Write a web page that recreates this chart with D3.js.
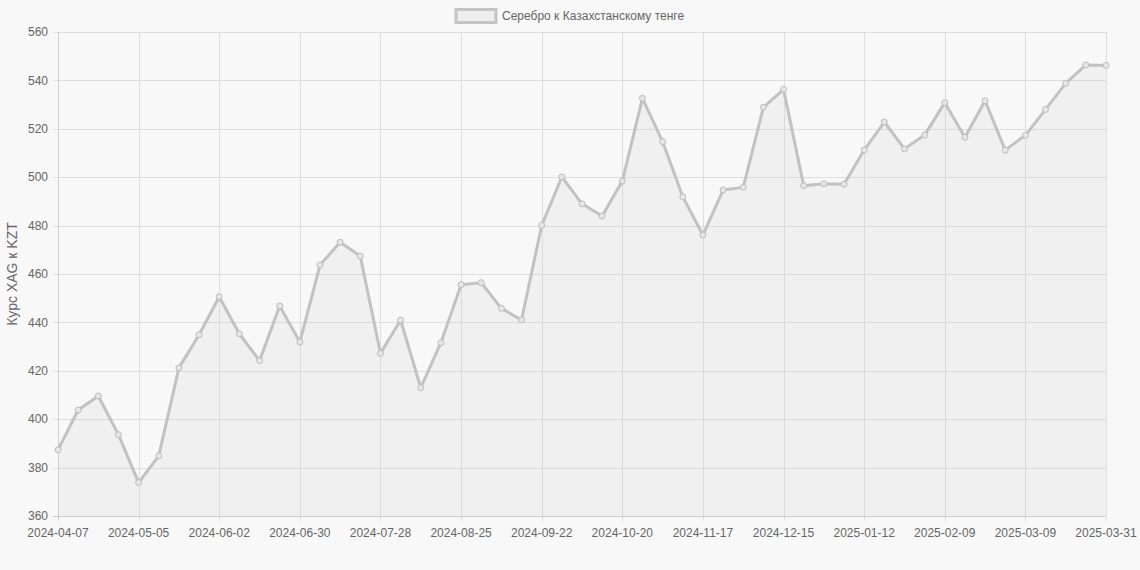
<!DOCTYPE html>
<html>
<head>
<meta charset="utf-8">
<script src="https://cdn.jsdelivr.net/npm/d3@7"></script>
<style>
  html, body { margin: 0; padding: 0; background: #f8f8f8; }
  svg { display: block; font-family: "Liberation Sans", Arial, Helvetica, sans-serif; }
</style>
</head>
<body>
<svg id="chart" width="1140" height="570"></svg>
<script>
const dates = [
  "2024-04-07","2024-04-14","2024-04-21","2024-04-28","2024-05-05","2024-05-12","2024-05-19","2024-05-26",
  "2024-06-02","2024-06-09","2024-06-16","2024-06-23","2024-06-30","2024-07-07","2024-07-14","2024-07-21",
  "2024-07-28","2024-08-04","2024-08-11","2024-08-18","2024-08-25","2024-09-01","2024-09-08","2024-09-15",
  "2024-09-22","2024-09-29","2024-10-06","2024-10-13","2024-10-20","2024-10-27","2024-11-03","2024-11-10",
  "2024-11-17","2024-11-24","2024-12-01","2024-12-08","2024-12-15","2024-12-22","2024-12-29","2025-01-05",
  "2025-01-12","2025-01-19","2025-01-26","2025-02-02","2025-02-09","2025-02-16","2025-02-23","2025-03-02",
  "2025-03-09","2025-03-16","2025-03-23","2025-03-30","2025-03-31"
];
const values = [
  387.3, 403.8, 409.6, 393.6, 373.8, 384.9, 421.2, 434.9,
  450.6, 435.3, 424.2, 446.8, 431.9, 463.7, 473.1, 467.4,
  427.2, 441.0, 413.0, 431.6, 455.6, 456.4, 445.8, 441.0,
  480.1, 500.1, 489.0, 484.0, 498.4, 532.6, 514.7, 491.9,
  476.1, 494.7, 495.8, 528.9, 536.3, 496.5, 497.3, 497.1,
  511.2, 522.8, 511.7, 517.4, 530.8, 516.5, 531.6, 511.2,
  517.3, 528.0, 538.8, 546.4, 546.2
];
const yTicks = [360, 380, 400, 420, 440, 460, 480, 500, 520, 540, 560];
const xTickLabels = ["2024-04-07","2024-05-05","2024-06-02","2024-06-30","2024-07-28","2024-08-25",
  "2024-09-22","2024-10-20","2024-11-17","2024-12-15","2025-01-12","2025-02-09","2025-03-09","2025-03-31"];
const seriesName = "Серебро к Казахстанскому тенге";
const yTitle = "Курс XAG к KZT";

(function () {
const svg = d3.select("#chart");
const pLeft = 58, pRight = 1106, pTop = 32, pBottom = 516;

const x = d3.scalePoint().domain(dates).range([pLeft, pRight]);
const y = d3.scaleLinear().domain([360, 560]).range([pBottom, pTop]);

const gridColor = "#dedede";
const textColor = "#666";

// grid
const grid = svg.append("g");
grid.selectAll("line.h").data(yTicks).enter().append("line")
  .attr("x1", pLeft - 5).attr("x2", pRight)
  .attr("y1", d => Math.round(y(d)) + 0.5).attr("y2", d => Math.round(y(d)) + 0.5)
  .attr("stroke", gridColor).attr("stroke-width", 1);
grid.selectAll("line.v").data(xTickLabels).enter().append("line")
  .attr("x1", d => Math.round(x(d)) + 0.5).attr("x2", d => Math.round(x(d)) + 0.5)
  .attr("y1", pTop).attr("y2", pBottom + 5)
  .attr("stroke", gridColor).attr("stroke-width", 1);

// area
const area = d3.area().x((d, i) => x(dates[i])).y0(pBottom).y1(d => y(d));
svg.append("path").datum(values).attr("d", area).attr("fill", "rgba(200,200,200,0.16)");

// axes lines
svg.append("line").attr("x1", pLeft + 0.5).attr("x2", pLeft + 0.5).attr("y1", pTop).attr("y2", pBottom + 5)
  .attr("stroke", "#cfcfcf");
svg.append("line").attr("x1", pLeft - 5).attr("x2", pRight).attr("y1", pBottom + 0.5).attr("y2", pBottom + 0.5)
  .attr("stroke", "#cfcfcf");

// line
const line = d3.line().x((d, i) => x(dates[i])).y(d => y(d));
svg.append("path").datum(values).attr("d", line)
  .attr("fill", "none").attr("stroke", "#c2c2c2").attr("stroke-width", 3).attr("stroke-linejoin", "round");

// points
svg.selectAll("circle.pt").data(values).enter().append("circle")
  .attr("cx", (d, i) => x(dates[i])).attr("cy", d => y(d)).attr("r", 3)
  .attr("fill", "#e6e6e6").attr("stroke", "#bdbdbd").attr("stroke-width", 1);

// y tick labels
svg.selectAll("text.yt").data(yTicks).enter().append("text")
  .attr("x", pLeft - 10).attr("y", d => y(d)).attr("dy", "0.35em")
  .attr("text-anchor", "end").attr("font-size", 12).attr("fill", textColor)
  .text(d => d);

// x tick labels
svg.selectAll("text.xt").data(xTickLabels).enter().append("text")
  .attr("x", d => x(d)).attr("y", pBottom + 21)
  .attr("text-anchor", "middle").attr("font-size", 12).attr("fill", textColor)
  .text(d => d);

// y title
svg.append("text")
  .attr("transform", `translate(17,${(pTop + pBottom) / 2}) rotate(-90)`)
  .attr("text-anchor", "middle").attr("font-size", 14).attr("fill", textColor)
  .text(yTitle);

// legend
const lg = svg.append("g");
lg.append("rect").attr("x", 456).attr("y", 9.5).attr("width", 40).attr("height", 13)
  .attr("fill", "#eeeeee").attr("stroke", "#c4c4c4").attr("stroke-width", 3);
lg.append("text").attr("x", 502).attr("y", 16).attr("dy", "0.35em")
  .attr("font-size", 12).attr("fill", textColor).text(seriesName);
})();
</script>
</body>
</html>
